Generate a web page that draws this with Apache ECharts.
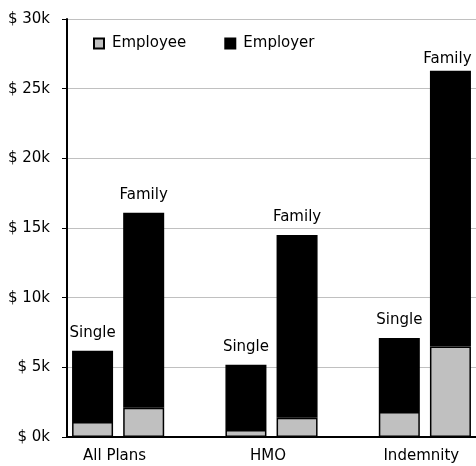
<!DOCTYPE html>
<html>
<head>
<meta charset="utf-8">
<script src="https://cdn.jsdelivr.net/npm/echarts@6/dist/echarts.min.js"></script>
<style>html,body{margin:0;padding:0;background:#fff}#c{width:476px;height:466px}</style>
</head>
<body>
<div id="c"></div>
<script>
// Data (thousands of dollars)
var groups = ['All Plans', 'HMO', 'Indemnity'];
var plans = ['Single', 'Family'];
var employeeSingle = [1.08, 0.50, 1.79];
var employerSingle = [5.11, 4.69, 5.31];
var employeeFamily = [2.10, 1.38, 6.50];
var employerFamily = [13.99, 13.11, 19.78];
var yTicks = ['$ 0k', '$ 5k', '$ 10k', '$ 15k', '$ 20k', '$ 25k', '$ 30k'];

// Build slots: Single, Family, gap, Single, Family, gap, Single, Family
var slots = [], slotGroup = [], slotPlan = [], empData = [], erData = [];
groups.forEach(function (g, i) {
  slots.push(g + ' Single'); slotGroup.push(g); slotPlan.push(plans[0]);
  empData.push(employeeSingle[i]); erData.push(employerSingle[i]);
  slots.push(g + ' Family'); slotGroup.push(''); slotPlan.push(plans[1]);
  empData.push(employeeFamily[i]); erData.push(employerFamily[i]);
  if (i < groups.length - 1) {
    slots.push('gap' + i); slotGroup.push(''); slotPlan.push('');
    empData.push('-'); erData.push('-');
  }
});

var FONT = 'DejaVu Sans';
var erItems = erData.map(function (v, i) {
  var item = { value: v };
  if (i === erData.length - 1) item.label = { offset: [-3, 6] };
  return item;
});

var chart = echarts.init(document.getElementById('c'), null, { renderer: 'canvas' });
chart.setOption({
  animation: false,
  backgroundColor: '#fff',
  textStyle: { fontFamily: FONT },
  legend: {
    data: ['Employee', 'Employer'],
    icon: 'rect',
    left: 93, top: 36, padding: 0,
    itemWidth: 10, itemHeight: 10, itemGap: 38,
    textStyle: { fontFamily: FONT, fontSize: 15, color: '#000', padding: [0, 0, 0, 3] }
  },
  grid: { left: 67, top: 19, width: 416, height: 418, containLabel: false },
  xAxis: {
    type: 'category',
    data: slots,
    axisLine: { lineStyle: { color: '#000', width: 2 } },
    axisTick: { show: false },
    axisLabel: {
      interval: 0,
      margin: 12,
      fontFamily: FONT, fontSize: 15, color: '#000',
      padding: [0, 0, 0, 44],
      formatter: function (v, i) { return slotGroup[i]; }
    }
  },
  yAxis: {
    type: 'value',
    min: 0, max: 30, interval: 5,
    axisLine: { show: true, lineStyle: { color: '#000', width: 2 } },
    axisTick: { show: true, length: 5, lineStyle: { color: '#000' } },
    splitLine: { lineStyle: { color: '#c0c0c0', width: 1 } },
    axisLabel: {
      margin: 17,
      fontFamily: FONT, fontSize: 15, color: '#000',
      formatter: function (v) { return yTicks[Math.round(v / 5)]; }
    }
  },
  series: [
    {
      name: 'Employee', type: 'bar', stack: 'cost',
      barWidth: 41,
      data: empData,
      itemStyle: { color: '#c0c0c0', borderColor: '#000', borderWidth: 1.5 }
    },
    {
      name: 'Employer', type: 'bar', stack: 'cost',
      barWidth: 41,
      data: erItems,
      itemStyle: { color: '#000', borderColor: '#000', borderWidth: 1.5 },
      label: {
        show: true, position: 'top', distance: 10,
        fontFamily: FONT, fontSize: 15, color: '#000',
        formatter: function (p) { return slotPlan[p.dataIndex]; }
      }
    }
  ]
});
</script>
</body>
</html>
